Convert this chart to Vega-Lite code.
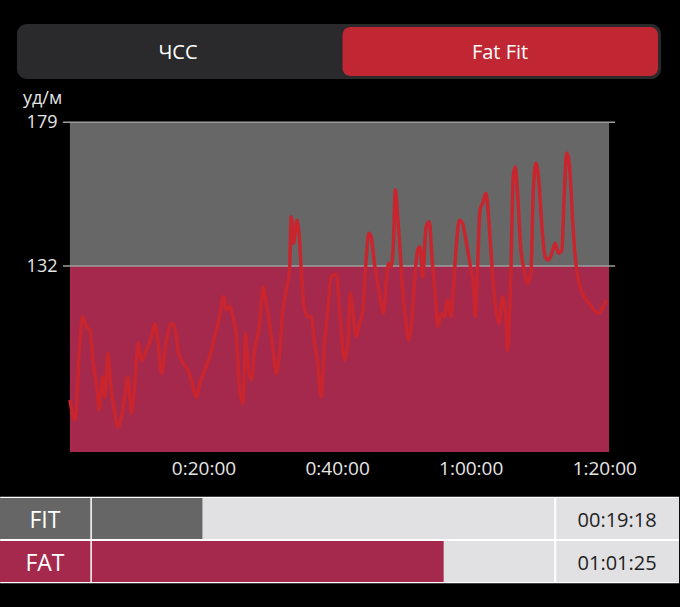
{
  "$schema": "https://vega.github.io/schema/vega-lite/v6.json",
  "width": 680,
  "height": 607,
  "autosize": {"type": "fit", "contains": "padding"},
  "padding": 0,
  "background": "#000000",
  "config": {"view": {"stroke": null}, "font": "Open Sans"},
  "resolve": {"scale": {"x": "independent", "y": "independent", "color": "independent"}},
  "layer": [
    {
      "layer": [
        {
          "data": {"values": [{}]},
          "mark": {"type": "rect", "color": "#676767"},
          "encoding": {
            "x": {"datum": 0, "type": "quantitative", "scale": {"domain": [-10.464, 91.184], "nice": false, "zero": false}},
            "x2": {"datum": 80.72},
            "y": {"datum": 132, "type": "quantitative", "scale": {"domain": [20.47, 219.0], "nice": false, "zero": false}},
            "y2": {"datum": 179}
          }
        },
        {
          "data": {"values": [{}]},
          "mark": {"type": "rect", "color": "#a5294c"},
          "encoding": {
            "x": {"datum": 0, "type": "quantitative", "scale": {"domain": [-10.464, 91.184], "nice": false, "zero": false}},
            "x2": {"datum": 80.72},
            "y": {"datum": 71.16, "type": "quantitative", "scale": {"domain": [20.47, 219.0], "nice": false, "zero": false}},
            "y2": {"datum": 132}
          }
        },
        {
          "data": {"values": [{"level": 179}, {"level": 132}]},
          "mark": {"type": "rule", "color": "#9c9c9c", "strokeWidth": 1.5},
          "encoding": {
            "x": {"datum": -1.05, "type": "quantitative", "scale": {"domain": [-10.464, 91.184], "nice": false, "zero": false}},
            "x2": {"datum": 81.62},
            "y": {"field": "level", "type": "quantitative", "scale": {"domain": [20.47, 219.0], "nice": false, "zero": false}}
          }
        },
        {
          "data": {"values": [
            {"t":0,"hr":88.2},{"t":0.75,"hr":81.6},{"t":1.49,"hr":106.8},{"t":1.9,"hr":115.4},{"t":2.5,"hr":112.1},{"t":2.99,"hr":111},{"t":3.48,"hr":100.2},{"t":4.08,"hr":91.4},{"t":4.38,"hr":84.9},{"t":4.89,"hr":95.8},{"t":5.23,"hr":89.2},{"t":5.72,"hr":103.4},{"t":6.08,"hr":93.6},{"t":6.73,"hr":83.8},{"t":7.22,"hr":79.4},{"t":7.73,"hr":82.7},{"t":8.22,"hr":89.2},{"t":8.71,"hr":95.8},{"t":9.22,"hr":83.8},{"t":9.72,"hr":93.6},{"t":10.21,"hr":106.7},{"t":10.72,"hr":101.2},{"t":11.46,"hr":104.5},{"t":12.21,"hr":108.9},{"t":12.71,"hr":113.2},{"t":13.2,"hr":106.7},{"t":13.71,"hr":96.9},{"t":14.45,"hr":107.8},{"t":15.2,"hr":113.2},{"t":15.7,"hr":112.1},{"t":16.19,"hr":104.5},{"t":16.94,"hr":100.2},{"t":17.68,"hr":98},{"t":18.19,"hr":94.7},{"t":18.94,"hr":89.2},{"t":19.43,"hr":93.6},{"t":20.18,"hr":98},{"t":20.93,"hr":102.3},{"t":21.67,"hr":108.9},{"t":22.42,"hr":115.4},{"t":23.02,"hr":122},{"t":23.42,"hr":117.6},{"t":23.92,"hr":118.7},{"t":24.41,"hr":115.4},{"t":24.92,"hr":108.9},{"t":25.41,"hr":91.4},{"t":25.9,"hr":87.1},{"t":26.31,"hr":110},{"t":26.65,"hr":100.2},{"t":27.16,"hr":94.7},{"t":27.65,"hr":104.5},{"t":28.4,"hr":113.2},{"t":28.89,"hr":125.2},{"t":29.4,"hr":119.8},{"t":29.9,"hr":113.2},{"t":30.39,"hr":104.5},{"t":30.9,"hr":96.9},{"t":31.39,"hr":103.4},{"t":31.88,"hr":117.6},{"t":32.39,"hr":124.1},{"t":32.88,"hr":130.7},{"t":33.14,"hr":148.1},{"t":33.48,"hr":139.4},{"t":33.98,"hr":147},{"t":34.38,"hr":140.5},{"t":34.63,"hr":130.7},{"t":35.13,"hr":117.6},{"t":35.62,"hr":115.4},{"t":36.13,"hr":115.4},{"t":36.62,"hr":106.7},{"t":37.11,"hr":100.2},{"t":37.62,"hr":89.2},{"t":38.12,"hr":106.7},{"t":38.61,"hr":117.6},{"t":39.12,"hr":128.5},{"t":39.87,"hr":129.3},{"t":40.36,"hr":118},{"t":41.11,"hr":101.2},{"t":41.6,"hr":106.7},{"t":42,"hr":123},{"t":42.35,"hr":117.6},{"t":42.86,"hr":108.9},{"t":43.35,"hr":113.2},{"t":43.84,"hr":117.6},{"t":44.35,"hr":134},{"t":44.74,"hr":142.7},{"t":45.1,"hr":141.6},{"t":45.59,"hr":132.9},{"t":46.08,"hr":126.3},{"t":46.59,"hr":119.8},{"t":46.94,"hr":116.5},{"t":47.34,"hr":126.3},{"t":47.73,"hr":132.9},{"t":48.09,"hr":131.8},{"t":48.43,"hr":139.4},{"t":48.73,"hr":156.9},{"t":49.07,"hr":148.1},{"t":49.43,"hr":137.2},{"t":49.82,"hr":124.1},{"t":50.33,"hr":113.2},{"t":50.72,"hr":107.8},{"t":51.23,"hr":115.4},{"t":51.72,"hr":130.7},{"t":52.06,"hr":137.2},{"t":52.42,"hr":138.3},{"t":52.81,"hr":128.5},{"t":53.32,"hr":144.8},{"t":53.81,"hr":146.5},{"t":54.22,"hr":134},{"t":54.71,"hr":122},{"t":55.05,"hr":112.1},{"t":55.56,"hr":116.5},{"t":56.05,"hr":115.4},{"t":56.55,"hr":120.9},{"t":57.06,"hr":115.4},{"t":57.4,"hr":124.1},{"t":57.8,"hr":137.2},{"t":58.3,"hr":147},{"t":58.79,"hr":145.9},{"t":59.19,"hr":141.6},{"t":59.54,"hr":137.2},{"t":60.04,"hr":130.7},{"t":60.39,"hr":126.3},{"t":60.69,"hr":115.4},{"t":61.03,"hr":131.8},{"t":61.39,"hr":150.3},{"t":61.78,"hr":152.5},{"t":62.29,"hr":155.8},{"t":62.68,"hr":148.1},{"t":63.03,"hr":137.2},{"t":63.38,"hr":126.3},{"t":63.78,"hr":117.6},{"t":64.27,"hr":113.2},{"t":64.77,"hr":122},{"t":65.17,"hr":117.6},{"t":65.52,"hr":104.5},{"t":66.02,"hr":130.7},{"t":66.37,"hr":161.2},{"t":66.67,"hr":164.5},{"t":67.01,"hr":155.8},{"t":67.52,"hr":137.2},{"t":68.01,"hr":130.7},{"t":68.51,"hr":126.3},{"t":69.01,"hr":129.6},{"t":69.36,"hr":155.8},{"t":69.76,"hr":165.6},{"t":70.15,"hr":161.2},{"t":70.66,"hr":144.8},{"t":71.15,"hr":135},{"t":71.64,"hr":134},{"t":72.15,"hr":136.2},{"t":72.65,"hr":139.4},{"t":73.14,"hr":136.2},{"t":73.65,"hr":137.2},{"t":73.99,"hr":154.7},{"t":74.39,"hr":168.9},{"t":74.84,"hr":163.4},{"t":75.23,"hr":148.1},{"t":75.74,"hr":132.9},{"t":76.23,"hr":126.3},{"t":76.98,"hr":122},{"t":77.73,"hr":119.8},{"t":78.48,"hr":117.6},{"t":79.22,"hr":116.5},{"t":79.82,"hr":118.7},{"t":80.31,"hr":120.9}
          ]},
          "mark": {"type": "line", "color": "#c9252f", "strokeWidth": 3.5, "interpolate": "monotone"},
          "encoding": {
            "x": {
              "field": "t", "type": "quantitative",
              "scale": {"domain": [-10.464, 91.184], "nice": false, "zero": false},
              "axis": {
                "orient": "bottom", "values": [20, 40, 60, 80], "offset": -155, "zindex": 2,
                "domain": false, "ticks": false, "grid": false, "title": null,
                "labelFontSize": 19, "labelColor": "#e6e6e6", "labelPadding": 7, "labelFont": "Open Sans",
                "labelFlush": false, "labelOverlap": false, "labelBound": false,
                "labelExpr": "floor(datum.value/60) + ':' + (datum.value % 60 < 10 ? '0' : '') + (datum.value % 60) + ':00'"
              }
            },
            "y": {
              "field": "hr", "type": "quantitative",
              "scale": {"domain": [20.47, 219.0], "nice": false, "zero": false},
              "axis": {
                "orient": "left", "values": [132, 179], "offset": -70, "zindex": 2,
                "domain": false, "ticks": false, "grid": false,
                "labelFontSize": 18, "labelColor": "#e6e6e6", "labelPadding": 13, "labelFont": "Open Sans",
                "labelOverlap": false, "labelBound": false, "labelFlush": false,
                "title": "уд/м", "titleAngle": 0, "titleX": -28, "titleY": 103,
                "titleAlign": "center", "titleBaseline": "alphabetic",
                "titleFontSize": 18, "titleFontWeight": "normal", "titleColor": "#e6e6e6", "titleFont": "Open Sans"
              }
            }
          }
        }
      ]
    },
    {
      "data": {"values": [{}]},
      "layer": [
        {
          "mark": {"type": "rect", "color": "#2a2a2c", "cornerRadius": 10},
          "encoding": {
            "x": {"datum": 0, "type": "quantitative", "scale": {"domain": [-0.0527, 2.0558], "nice": false, "zero": false}, "axis": null},
            "x2": {"datum": 2},
            "y": {"datum": 0, "type": "quantitative", "scale": {"domain": [-9.6, 1.43636], "nice": false, "zero": false}, "axis": null},
            "y2": {"datum": 1}
          }
        },
        {
          "mark": {"type": "rect", "color": "#c12732", "cornerRadius": 8},
          "encoding": {
            "x": {"datum": 1.0109, "type": "quantitative", "scale": {"domain": [-0.0527, 2.0558], "nice": false, "zero": false}, "axis": null},
            "x2": {"datum": 1.9907},
            "y": {"datum": 0.0545, "type": "quantitative", "scale": {"domain": [-9.6, 1.43636], "nice": false, "zero": false}, "axis": null},
            "y2": {"datum": 0.9455}
          }
        },
        {
          "mark": {"type": "text", "color": "#ffffff", "fontSize": 20, "font": "Open Sans", "align": "center", "baseline": "alphabetic"},
          "encoding": {
            "x": {"datum": 0.5, "type": "quantitative", "scale": {"domain": [-0.0527, 2.0558], "nice": false, "zero": false}, "axis": null},
            "y": {"datum": 0.364, "type": "quantitative", "scale": {"domain": [-9.6, 1.43636], "nice": false, "zero": false}, "axis": null},
            "text": {"value": "ЧСС"}
          }
        },
        {
          "mark": {"type": "text", "color": "#ffffff", "fontSize": 20, "font": "Open Sans", "align": "center", "baseline": "alphabetic"},
          "encoding": {
            "x": {"datum": 1.5, "type": "quantitative", "scale": {"domain": [-0.0527, 2.0558], "nice": false, "zero": false}, "axis": null},
            "y": {"datum": 0.364, "type": "quantitative", "scale": {"domain": [-9.6, 1.43636], "nice": false, "zero": false}, "axis": null},
            "text": {"value": "Fat Fit"}
          }
        }
      ]
    },
    {
      "data": {"values": [
        {"zone": "FIT", "minutes": 19.3, "time": "00:19:18"},
        {"zone": "FAT", "minutes": 61.4167, "time": "01:01:25"}
      ]},
      "layer": [
        {
          "mark": {"type": "rect", "color": "#ffffff", "stroke": "#ffffff", "strokeWidth": 2.5},
          "encoding": {
            "x": {"datum": -15.8, "type": "quantitative", "scale": {"domain": [-16.04, 102.51], "nice": false, "zero": false}, "axis": null},
            "x2": {"datum": 102.3},
            "y": {"field": "zone", "type": "nominal", "scale": {"domain": ["FIT", "FAT"], "range": [498, 582], "paddingInner": 0.04651, "paddingOuter": 0}, "axis": null}
          }
        },
        {
          "mark": {"type": "rect"},
          "encoding": {
            "x": {"datum": -16.04, "type": "quantitative", "scale": {"domain": [-16.04, 102.51], "nice": false, "zero": false}, "axis": null},
            "x2": {"datum": -0.26},
            "y": {"field": "zone", "type": "nominal", "scale": {"domain": ["FIT", "FAT"], "range": [498, 582], "paddingInner": 0.04651, "paddingOuter": 0}, "axis": null},
            "color": {"field": "zone", "type": "nominal", "scale": {"domain": ["FIT", "FAT"], "range": ["#666666", "#a5294c"]}, "legend": null}
          }
        },
        {
          "mark": {"type": "rect", "color": "#e1e1e3"},
          "encoding": {
            "x": {"datum": 0.087, "type": "quantitative", "scale": {"domain": [-16.04, 102.51], "nice": false, "zero": false}, "axis": null},
            "x2": {"datum": 80.72},
            "y": {"field": "zone", "type": "nominal", "scale": {"domain": ["FIT", "FAT"], "range": [498, 582], "paddingInner": 0.04651, "paddingOuter": 0}, "axis": null}
          }
        },
        {
          "mark": {"type": "rect"},
          "encoding": {
            "x": {"field": "minutes", "type": "quantitative", "scale": {"domain": [-16.04, 102.51], "nice": false, "zero": false}, "axis": null},
            "x2": {"datum": 0},
            "y": {"field": "zone", "type": "nominal", "scale": {"domain": ["FIT", "FAT"], "range": [498, 582], "paddingInner": 0.04651, "paddingOuter": 0}, "axis": null},
            "color": {"field": "zone", "type": "nominal", "scale": {"domain": ["FIT", "FAT"], "range": ["#666666", "#a5294c"]}, "legend": null}
          }
        },
        {
          "mark": {"type": "rect", "color": "#e1e1e3"},
          "encoding": {
            "x": {"datum": 81.07, "type": "quantitative", "scale": {"domain": [-16.04, 102.51], "nice": false, "zero": false}, "axis": null},
            "x2": {"datum": 102.51},
            "y": {"field": "zone", "type": "nominal", "scale": {"domain": ["FIT", "FAT"], "range": [498, 582], "paddingInner": 0.04651, "paddingOuter": 0}, "axis": null}
          }
        },
        {
          "mark": {"type": "text", "color": "#ffffff", "fontSize": 23, "font": "Open Sans", "align": "center", "baseline": "middle", "dy": 2},
          "encoding": {
            "x": {"datum": -8.19, "type": "quantitative", "scale": {"domain": [-16.04, 102.51], "nice": false, "zero": false}, "axis": null},
            "y": {"field": "zone", "type": "nominal", "scale": {"domain": ["FIT", "FAT"], "range": [498, 582], "paddingInner": 0.04651, "paddingOuter": 0}, "axis": null},
            "text": {"field": "zone"}
          }
        },
        {
          "mark": {"type": "text", "color": "#1e1e1e", "fontSize": 20, "font": "Open Sans", "align": "center", "baseline": "middle", "dy": 2},
          "encoding": {
            "x": {"datum": 91.7, "type": "quantitative", "scale": {"domain": [-16.04, 102.51], "nice": false, "zero": false}, "axis": null},
            "y": {"field": "zone", "type": "nominal", "scale": {"domain": ["FIT", "FAT"], "range": [498, 582], "paddingInner": 0.04651, "paddingOuter": 0}, "axis": null},
            "text": {"field": "time"}
          }
        }
      ]
    }
  ]
}
